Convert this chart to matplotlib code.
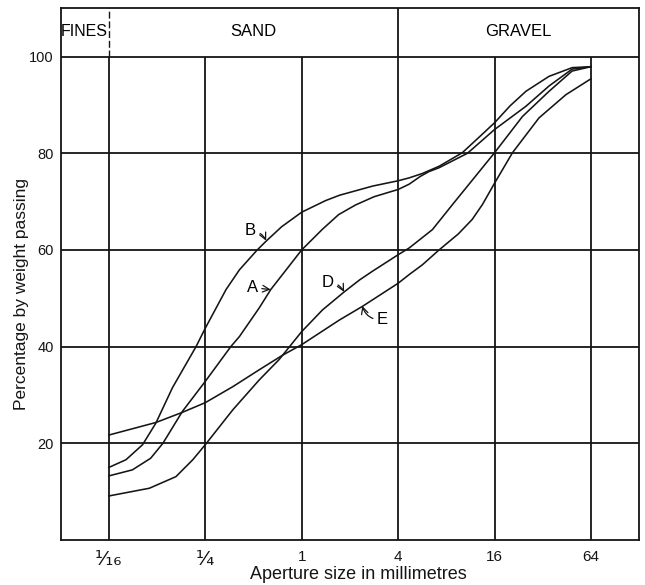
import numpy as np
import matplotlib
matplotlib.use('Agg')
import matplotlib.pyplot as plt

plt.rcParams['font.family'] = ['Liberation Sans', 'DejaVu Sans']

# aperture sizes (mm) and percentage passing
size_B = [0.0625, 0.080, 0.1015, 0.123, 0.156, 0.219, 0.25, 0.337, 0.409, 0.528, 0.599, 0.75,
          1.0, 1.41, 1.72, 2.77, 4.0, 4.69, 5.66, 7.21, 10.06, 12.7, 16.0, 20.0, 25.1, 35.0, 48.8, 64.0]
pass_B = [15.0, 16.6, 19.7, 24.2, 31.5, 40.0, 43.8, 51.8, 55.9, 60.0, 61.8, 64.8,
          67.8, 70.2, 71.3, 73.2, 74.3, 74.9, 75.8, 77.3, 80.1, 83.2, 86.3, 89.8, 92.8, 95.9, 97.7, 97.9]

size_A = [0.0625, 0.0877, 0.114, 0.136, 0.180, 0.25, 0.361, 0.409, 0.543, 0.641, 1.0,
          1.35, 1.7, 2.17, 2.83, 4.0, 4.69, 5.5, 6.23, 7.21, 10.85, 16.0, 25.1, 35.0, 48.8, 64.0]
pass_A = [13.25, 14.5, 16.9, 20.0, 26.6, 32.8, 40.0, 42.1, 48.0, 51.8, 60.0,
          64.3, 67.3, 69.3, 71.0, 72.5, 73.6, 75.2, 76.2, 77.0, 80.0, 84.9, 89.7, 93.9, 97.4, 97.9]

size_D = [0.0625, 0.112, 0.164, 0.209, 0.25, 0.371, 0.543, 0.722, 1.0, 1.35, 1.84, 2.3, 2.77,
          4.0, 4.69, 6.55, 8.75, 16.0, 23.9, 35.0, 48.8, 64.0]
pass_D = [9.1, 10.7, 13.1, 16.6, 19.7, 26.9, 33.1, 37.3, 43.1, 47.6, 51.3, 53.8, 55.6,
          59.0, 60.4, 64.2, 69.4, 80.1, 87.6, 92.8, 97.0, 97.9]

size_E = [0.0625, 0.123, 0.180, 0.25, 0.371, 0.543, 0.758, 1.0, 1.72, 2.39, 4.0, 4.69,
          5.66, 7.21, 9.5, 11.6, 13.45, 16.0, 20.7, 30.3, 44.6, 64.0]
pass_E = [21.7, 24.3, 26.4, 28.4, 31.7, 35.2, 38.2, 40.4, 45.5, 48.3, 53.1, 54.9,
          56.9, 60.0, 63.3, 66.3, 69.4, 73.8, 80.1, 87.3, 92.1, 95.4]

x_ticks = [1/16, 1/4, 1, 4, 16, 64]
x_labels = ['\u00b9\u2044\u2081\u2086', '\u00b9\u2044\u2084', '1', '4', '16', '64']
y_ticks = [20, 40, 60, 80, 100]

ink = '#151515'

fig = plt.figure(figsize=(6.45, 5.85), dpi=100)
ax = fig.add_axes([0.094, 0.077, 0.897, 0.909])
ax.set_xscale('log', base=2)
ax.set_xlim(1/32, 128)
ax.set_ylim(0, 110)

# grid
ax.hlines(y_ticks, 1/32, 128, color=ink, lw=1.3, zorder=1)
ax.vlines(x_ticks, 0, 100, color=ink, lw=1.3, zorder=1)
# zone band on top
ax.vlines(4, 100, 110, color=ink, lw=1.3)
ax.vlines(1/16, 100, 110, color=ink, lw=1.0, linestyles=(0, (5, 2)))
ax.text(0.0442, 105.2, 'FINES', ha='center', va='center', fontsize=11.5)
ax.text(0.5, 105.2, 'SAND', ha='center', va='center', fontsize=12)
ax.text(22.6, 105.2, 'GRAVEL', ha='center', va='center', fontsize=12)

for s, p in [(size_B, pass_B), (size_A, pass_A), (size_D, pass_D), (size_E, pass_E)]:
    ax.plot(s, p, color=ink, lw=1.15, zorder=3, solid_joinstyle='round')

arrow = dict(arrowstyle='->', color=ink, lw=0.9, shrinkA=1, shrinkB=0)
ax.annotate('B', xy=(0.60, 61.9), xytext=(0.48, 64.0), fontsize=12, ha='center', va='center',
            arrowprops=dict(arrow, connectionstyle='arc3,rad=-0.3'))
ax.annotate('A', xy=(0.64, 51.8), xytext=(0.49, 52.2), fontsize=12, ha='center', va='center',
            arrowprops=dict(arrow, connectionstyle='arc3,rad=0'))
ax.annotate('D', xy=(1.84, 51.3), xytext=(1.46, 53.3), fontsize=12, ha='center', va='center',
            arrowprops=dict(arrow, connectionstyle='arc3,rad=-0.3'))
ax.annotate('E', xy=(2.39, 48.4), xytext=(3.2, 45.6), fontsize=12, ha='center', va='center',
            arrowprops=dict(arrow, connectionstyle='arc3,rad=-0.4'))

ax.set_xticks(x_ticks)
ax.set_xticklabels(x_labels)
ax.minorticks_off()
ax.set_yticks(y_ticks)
ax.tick_params(length=0, labelsize=10.5, colors=ink)
ax.tick_params(axis='x', pad=7, labelsize=11)
ax.tick_params(axis='y', pad=5)
for lbl in ax.get_xticklabels()[:2]:
    lbl.set_fontsize(14.5)
    lbl.set_family(['DejaVu Sans'])
for sp in ax.spines.values():
    sp.set_color(ink)
    sp.set_linewidth(1.3)

ax.set_xlabel('Aperture size in millimetres', fontsize=13, color=ink)
ax.xaxis.set_label_coords(0.514, -0.049)
ax.set_ylabel('Percentage by weight passing', fontsize=12.5, color=ink)
ax.yaxis.set_label_coords(-0.055, 0.462)

fig.savefig('out.png', dpi=100)
